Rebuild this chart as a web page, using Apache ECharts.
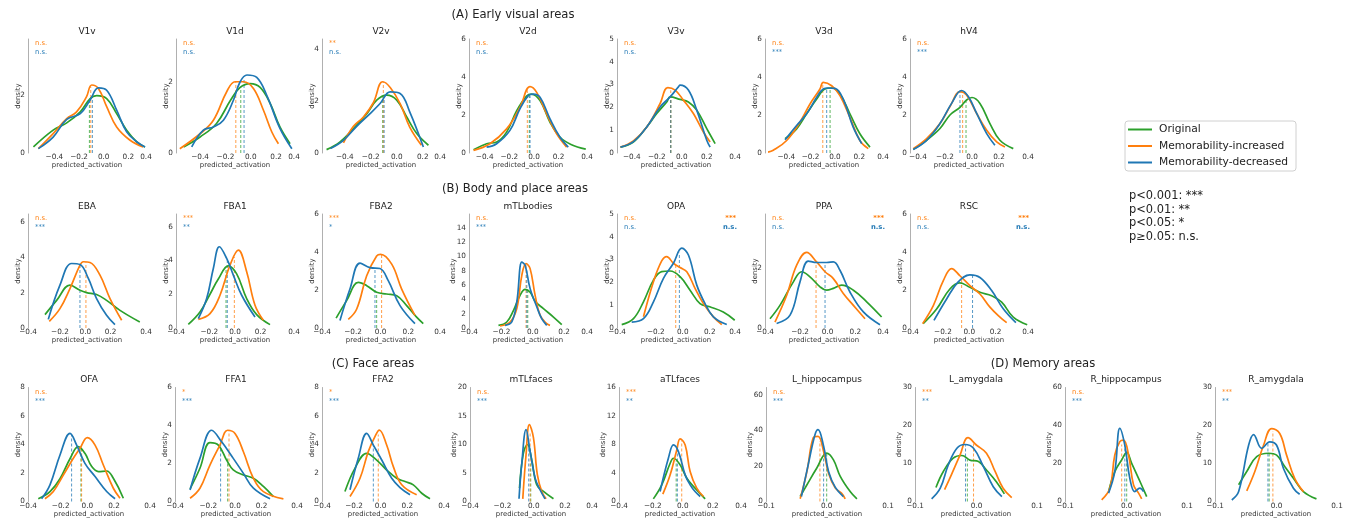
<!DOCTYPE html>
<html>
<head>
<meta charset="utf-8">
<script src="https://cdn.jsdelivr.net/npm/echarts@6/dist/echarts.min.js"></script>
<style>
html, body { margin: 0; padding: 0; background: #fff; }
#chart { width: 1347px; height: 520px; }
</style>
</head>
<body>
<div id="chart"></div>
<script>
// 面板名称 (row A: 7, row B: 7, row C+D: 9)
const panelNames = ['V1v', 'V1d', 'V2v', 'V2d', 'V3v', 'V3d', 'hV4',
    'EBA', 'FBA1', 'FBA2', 'mTLbodies', 'OPA', 'PPA', 'RSC',
    'OFA', 'FFA1', 'FFA2', 'mTLfaces', 'aTLfaces', 'L_hippocampus', 'L_amygdala', 'R_hippocampus', 'R_amygdala'];
const seriesNames = ['Original', 'Memorability-increased', 'Memorability-decreased'];
const sectionTitles = ['(A) Early visual areas', '(B) Body and place areas', '(C) Face areas', '(D) Memory areas'];
const pLegend = ['p<0.001: ***', 'p<0.01: **', 'p<0.05: *', 'p\u22650.05: n.s.'];

// x range of each panel (predicted_activation)
const xRanges = [[-0.614, 0.343], [-0.59, 0.341], [-0.575, 0.333], [-0.527, 0.43], [-0.518, 0.426], [-0.575, 0.395], [-0.459, 0.415],
    [-0.452, 0.479], [-0.46, 0.46], [-0.424, 0.429], [-0.407, 0.346], [-0.487, 0.387], [-0.453, 0.4], [-0.45, 0.446],
    [-0.445, 0.47], [-0.45, 0.465], [-0.44, 0.475], [-0.407, 0.372], [-0.425, 0.388], [-0.0984, 0.0994], [-0.1, 0.098], [-0.0987, 0.0965], [-0.099, 0.097]];
const xSteps = [0.2, 0.2, 0.2, 0.2, 0.2, 0.2, 0.2, 0.2, 0.2, 0.2, 0.2, 0.2, 0.2, 0.2, 0.2, 0.2, 0.2, 0.2, 0.2, 0.1, 0.1, 0.1, 0.1];
// tick labels drawn on the data axis
const xTickLabels = [[-0.4, -0.2, 0, 0.2], [-0.4, -0.2, 0, 0.2], [-0.4, -0.2, 0, 0.2], [-0.4, -0.2, 0, 0.2], [-0.4, -0.2, 0, 0.2], [-0.4, -0.2, 0, 0.2], [-0.4, -0.2, 0, 0.2],
    [-0.2, 0, 0.2], [-0.2, 0, 0.2], [-0.2, 0, 0.2], [-0.2, 0, 0.2], [-0.2, 0, 0.2], [-0.2, 0, 0.2], [-0.2, 0, 0.2],
    [-0.2, 0, 0.2], [-0.2, 0, 0.2], [-0.2, 0, 0.2], [-0.2, 0, 0.2], [-0.2, 0, 0.2], [0], [0], [0], [0]];
// labels at both ends of the panel
const edgeLabels = [['', '0.4'], ['', '0.4'], ['', '0.4'], ['', '0.4'], ['', '0.4'], ['', '0.4'], ['', '0.4'],
    ['\u22120.4', '0.4'], ['\u22120.4', '0.4'], ['\u22120.4', '0.4'], ['\u22120.4', '0.4'], ['\u22120.4', '0.4'], ['\u22120.4', '0.4'], ['\u22120.4', '0.4'],
    ['\u22120.4', '0.4'], ['\u22120.4', '0.4'], ['\u22120.4', '0.4'], ['\u22120.4', '0.4'], ['\u22120.4', '0.4'], ['\u22120.1', '0.1'], ['\u22120.1', '0.1'], ['\u22120.1', '0.1'], ['\u22120.1', '0.1']];
// density axis
const yMaxes = [3.94, 3.2, 4.4, 6, 5, 6, 6, 6.47, 6.75, 6, 15.9, 5, 3.83, 6, 8, 6, 8, 20, 16, 64, 30, 60, 30];
const ySteps = [2, 2, 2, 2, 1, 2, 2, 2, 2, 2, 2, 1, 2, 2, 2, 2, 2, 5, 4, 20, 10, 20, 10];

// significance marks
const sigInc = ['n.s.', 'n.s.', '**', 'n.s.', 'n.s.', 'n.s.', 'n.s.', 'n.s.', '***', '***', 'n.s.', 'n.s.', 'n.s.', 'n.s.',
    'n.s.', '*', '*', 'n.s.', '***', 'n.s.', '***', 'n.s.', '***'];
const sigDec = ['n.s.', 'n.s.', 'n.s.', 'n.s.', 'n.s.', '***', '***', '***', '**', '*', '***', 'n.s.', 'n.s.', 'n.s.',
    '***', '***', '***', '***', '**', '***', '**', '***', '**'];
const sigIncRight = [null, null, null, null, null, null, null, null, null, null, null, '***', '***', '***',
    null, null, null, null, null, null, null, null, null];
const sigDecRight = [null, null, null, null, null, null, null, null, null, null, null, 'n.s.', 'n.s.', 'n.s.',
    null, null, null, null, null, null, null, null, null];

// KDE curves [activation, density]
const origCurves = [
    [[-0.57, 0.21], [-0.41, 0.79], [-0.30, 1.04], [-0.19, 1.42], [-0.11, 1.88], [-0.057, 1.98], [0.024, 1.88], [0.105, 1.36], [0.186, 0.79], [0.27, 0.38], [0.335, 0.21]],
    [[-0.53, 0.17], [-0.40, 0.45], [-0.27, 0.83], [-0.16, 1.48], [-0.084, 1.84], [-0.005, 1.95], [0.074, 1.84], [0.153, 1.39], [0.23, 0.73], [0.31, 0.26]],
    [[-0.54, 0.13], [-0.436, 0.43], [-0.333, 0.94], [-0.23, 1.52], [-0.154, 2.04], [-0.077, 2.23], [0, 2.04], [0.077, 1.39], [0.154, 0.75], [0.244, 0.3]],
    [[-0.49, 0.17], [-0.384, 0.49], [-0.303, 0.58], [-0.222, 1.1], [-0.14, 2.23], [-0.06, 3.0], [-0.02, 3.1], [0.049, 2.76], [0.13, 1.62], [0.21, 0.84], [0.3, 0.45], [0.42, 0.2]],
    [[-0.49, 0.26], [-0.387, 0.48], [-0.28, 1.14], [-0.2, 1.73], [-0.12, 2.24], [-0.093, 2.46], [-0.013, 2.35], [0.053, 2.24], [0.12, 1.88], [0.2, 1.07], [0.267, 0.41]],
    [[-0.41, 0.75], [-0.315, 1.27], [-0.233, 2.06], [-0.15, 2.84], [-0.082, 3.37], [-0.027, 3.42], [0.041, 3.1], [0.123, 2.06], [0.205, 1.01], [0.288, 0.31]],
    [[-0.435, 0.19], [-0.336, 0.67], [-0.237, 1.29], [-0.163, 2.0], [-0.089, 2.4], [-0.04, 2.79], [0, 2.92], [0.059, 2.61], [0.133, 1.55], [0.207, 0.67], [0.306, 0.23]],
    [[-0.318, 0.76], [-0.226, 1.57], [-0.121, 2.43], [-0.042, 2.14], [0.01, 2.01], [0.089, 1.9], [0.168, 1.57], [0.274, 1.0], [0.43, 0.34]],
    [[-0.364, 0.22], [-0.273, 0.95], [-0.195, 2.0], [-0.13, 2.9], [-0.052, 3.68], [0.013, 3.2], [0.091, 1.74], [0.169, 0.79], [0.273, 0.2]],
    [[-0.322, 0.52], [-0.246, 1.44], [-0.161, 2.4], [-0.101, 2.23], [-0.029, 1.88], [0.043, 1.79], [0.116, 1.7], [0.188, 1.18], [0.26, 0.57], [0.308, 0.23]],
    [[-0.219, 0.37], [-0.166, 0.84], [-0.123, 2.47], [-0.081, 4.56], [-0.049, 5.4], [-0.017, 5.0], [0.015, 3.72], [0.068, 2.7], [0.132, 1.53], [0.185, 0.47]],
    [[-0.452, 0.15], [-0.365, 0.41], [-0.291, 1.15], [-0.217, 2.1], [-0.156, 2.47], [-0.094, 2.5], [-0.02, 2.25], [0.054, 1.66], [0.128, 1.07], [0.2, 0.93], [0.3, 0.7], [0.385, 0.34]],
    [[-0.417, 0.31], [-0.345, 0.76], [-0.248, 1.55], [-0.188, 1.89], [-0.128, 1.72], [-0.055, 1.38], [-0.007, 1.27], [0.041, 1.33], [0.101, 1.44], [0.186, 1.27], [0.282, 0.88], [0.39, 0.37]],
    [[-0.35, 0.23], [-0.248, 1.0], [-0.147, 2.05], [-0.071, 2.37], [0.005, 2.14], [0.081, 1.88], [0.17, 1.7], [0.246, 1.36], [0.334, 0.57], [0.44, 0.17]],
    [[-0.368, 0.19], [-0.28, 0.7], [-0.205, 1.6], [-0.13, 3.0], [-0.068, 3.85], [-0.018, 3.38], [0.033, 2.45], [0.083, 2.1], [0.145, 2.14], [0.195, 1.63], [0.27, 0.23]],
    [[-0.337, 0.66], [-0.263, 1.75], [-0.188, 3.1], [-0.125, 2.97], [-0.063, 2.18], [-0.013, 1.66], [0.063, 1.4], [0.138, 1.22], [0.213, 0.79], [0.288, 0.26]],
    [[-0.268, 0.7], [-0.193, 2.33], [-0.105, 3.38], [-0.03, 2.91], [0.045, 2.21], [0.12, 1.63], [0.183, 1.4], [0.245, 1.17], [0.308, 0.58], [0.37, 0.19]],
    [[-0.091, 2.35], [-0.066, 8.5], [-0.04, 10.0], [-0.013, 7.35], [0.019, 2.94], [0.062, 1.76], [0.126, 0.47]],
    [[-0.196, 0.37], [-0.14, 2.34], [-0.084, 5.37], [-0.062, 6.07], [-0.018, 5.14], [0.027, 3.27], [0.082, 1.87], [0.149, 0.37]],
    [[-0.043, 2.8], [-0.032, 9.4], [-0.016, 18.8], [0, 27.2], [0.011, 23.4], [0.022, 14.1], [0.038, 5.6], [0.049, 1.5]],
    [[-0.066, 3.7], [-0.054, 7.9], [-0.038, 11.4], [-0.024, 12.1], [-0.011, 10.9], [0.003, 10.5], [0.016, 8.3], [0.032, 5.2], [0.045, 2.0]],
    [[-0.029, 5.2], [-0.019, 15.7], [-0.008, 21.9], [0, 25.9], [0.008, 20.1], [0.019, 12.2], [0.032, 2.6]],
    [[-0.061, 4.4], [-0.048, 7.9], [-0.032, 11.8], [-0.013, 12.7], [0, 12.2], [0.013, 9.2], [0.027, 6.1], [0.043, 2.6], [0.064, 0.7]]
];
const incCurves = [
    [[-0.53, 0.15], [-0.41, 0.67], [-0.30, 1.19], [-0.22, 1.42], [-0.14, 1.94], [-0.097, 2.35], [-0.043, 2.23], [0.024, 1.6], [0.105, 0.9], [0.214, 0.44], [0.32, 0.21]],
    [[-0.56, 0.12], [-0.40, 0.54], [-0.295, 0.92], [-0.19, 1.72], [-0.124, 2.0], [-0.058, 2.0], [0.021, 1.81], [0.1, 1.2], [0.166, 0.59], [0.218, 0.26]],
    [[-0.41, 0.39], [-0.333, 1.03], [-0.256, 1.39], [-0.18, 1.94], [-0.108, 2.75], [-0.05, 2.53], [0.026, 1.91], [0.1, 1.0], [0.19, 0.3]],
    [[-0.49, 0.14], [-0.357, 0.49], [-0.222, 1.27], [-0.114, 2.4], [-0.032, 3.49], [0.022, 3.19], [0.103, 2.06], [0.184, 1.01], [0.265, 0.31]],
    [[-0.49, 0.26], [-0.387, 0.53], [-0.28, 1.14], [-0.173, 2.17], [-0.112, 2.87], [-0.053, 2.76], [0.013, 2.32], [0.093, 1.73], [0.173, 0.92], [0.227, 0.48]],
    [[-0.55, 0.05], [-0.507, 0.14], [-0.397, 0.66], [-0.288, 1.62], [-0.205, 2.58], [-0.123, 3.37], [-0.096, 3.72], [-0.027, 3.54], [0.041, 3.02], [0.123, 1.88], [0.205, 0.66], [0.274, 0.23]],
    [[-0.435, 0.23], [-0.336, 0.76], [-0.237, 1.55], [-0.163, 2.44], [-0.089, 3.23], [-0.04, 3.06], [0.035, 2.08], [0.109, 1.2], [0.183, 0.58], [0.244, 0.32]],
    [[-0.284, 0.38], [-0.2, 1.1], [-0.121, 2.24], [-0.042, 3.57], [-0.016, 3.76], [0.037, 3.72], [0.116, 3.0], [0.195, 1.67], [0.287, 0.44]],
    [[-0.286, 0.51], [-0.195, 0.85], [-0.117, 1.94], [-0.039, 3.72], [0.026, 4.61], [0.091, 3.33], [0.156, 1.35], [0.221, 0.46]],
    [[-0.234, 0.45], [-0.173, 1.0], [-0.101, 2.75], [-0.029, 3.79], [0.0, 3.88], [0.08, 3.36], [0.152, 2.05], [0.248, 0.66]],
    [[-0.209, 0.28], [-0.145, 0.84], [-0.102, 2.7], [-0.07, 7.35], [-0.043, 8.98], [-0.017, 8.28], [0.015, 4.56], [0.047, 1.77], [0.089, 0.6], [0.11, 0.37]],
    [[-0.291, 0.49], [-0.217, 2.03], [-0.156, 2.94], [-0.119, 3.13], [-0.069, 2.84], [-0.02, 2.65], [0.03, 2.47], [0.091, 1.74], [0.153, 1.07], [0.227, 0.49], [0.289, 0.15]],
    [[-0.381, 0.2], [-0.296, 1.1], [-0.224, 2.11], [-0.152, 2.54], [-0.08, 2.22], [-0.019, 1.89], [0.041, 1.66], [0.113, 1.16], [0.186, 0.76], [0.27, 0.31]],
    [[-0.354, 0.23], [-0.273, 1.18], [-0.197, 2.49], [-0.134, 3.13], [-0.071, 2.75], [0.005, 2.23], [0.081, 1.79], [0.157, 1.1], [0.233, 0.57], [0.284, 0.28]],
    [[-0.318, 0.19], [-0.255, 0.7], [-0.18, 1.86], [-0.105, 3.03], [-0.055, 3.73], [0, 4.48], [0.058, 3.96], [0.12, 2.56], [0.195, 0.93], [0.245, 0.23]],
    [[-0.337, 0.17], [-0.263, 0.7], [-0.188, 1.92], [-0.113, 2.97], [-0.055, 3.75], [0, 3.58], [0.063, 2.62], [0.138, 1.22], [0.213, 0.52], [0.363, 0.14]],
    [[-0.23, 0.35], [-0.155, 1.63], [-0.093, 3.5], [-0.043, 4.55], [-0.01, 5.01], [0.045, 3.96], [0.095, 2.45], [0.158, 1.17], [0.27, 0.47]],
    [[-0.07, 0.47], [-0.049, 8.24], [-0.028, 13.5], [-0.002, 11.2], [0.023, 4.7], [0.051, 1.76], [0.079, 0.47]],
    [[-0.133, 1.03], [-0.084, 3.74], [-0.04, 7.24], [-0.018, 8.79], [0.016, 7.94], [0.049, 4.2], [0.093, 1.87], [0.138, 0.7]],
    [[-0.043, 1.5], [-0.032, 16.9], [-0.022, 35.6], [-0.014, 36.6], [-0.005, 28.1], [0.003, 15.9], [0.014, 7.5], [0.024, 4.7], [0.03, 1.5]],
    [[-0.052, 3.1], [-0.041, 7.0], [-0.027, 12.2], [-0.014, 16.8], [0, 14.8], [0.016, 12.7], [0.03, 7.9], [0.043, 3.5], [0.057, 1.0]],
    [[-0.04, 0.9], [-0.027, 7.0], [-0.019, 24.5], [-0.011, 31.5], [-0.005, 32.3], [0.003, 24.5], [0.011, 8.7], [0.019, 4.4], [0.024, 1.4]],
    [[-0.048, 2.8], [-0.035, 7.9], [-0.021, 14.8], [-0.008, 19.2], [0.005, 17.9], [0.016, 12.2], [0.029, 6.1], [0.043, 2.6]]
];
const decCurves = [
    [[-0.53, 0.15], [-0.41, 0.55], [-0.30, 1.16], [-0.19, 1.36], [-0.11, 1.83], [-0.043, 2.25], [0.024, 2.17], [0.105, 1.48], [0.186, 0.73], [0.27, 0.38], [0.335, 0.21]],
    [[-0.466, 0.17], [-0.374, 0.64], [-0.295, 0.73], [-0.216, 0.92], [-0.137, 1.48], [-0.084, 2.0], [-0.03, 2.19], [0.047, 2.12], [0.126, 1.62], [0.23, 0.69], [0.324, 0.12]],
    [[-0.51, 0.17], [-0.41, 0.49], [-0.308, 1.03], [-0.205, 1.52], [-0.128, 1.91], [-0.05, 2.36], [0.026, 2.3], [0.1, 1.59], [0.205, 0.23]],
    [[-0.384, 0.31], [-0.303, 0.49], [-0.195, 1.19], [-0.114, 2.32], [-0.046, 3.02], [-0.005, 3.1], [0.049, 2.93], [0.13, 1.8], [0.21, 0.84], [0.278, 0.31]],
    [[-0.49, 0.26], [-0.387, 0.5], [-0.28, 1.14], [-0.173, 2.02], [-0.093, 2.46], [-0.027, 2.9], [-0.013, 2.98], [0.053, 2.76], [0.12, 1.88], [0.2, 0.56], [0.227, 0.26]],
    [[-0.41, 0.7], [-0.315, 1.45], [-0.233, 2.06], [-0.15, 2.93], [-0.096, 3.37], [-0.055, 3.42], [0, 3.4], [0.068, 2.84], [0.15, 1.36], [0.22, 0.49]],
    [[-0.435, 0.19], [-0.336, 0.67], [-0.237, 1.55], [-0.151, 2.61], [-0.077, 3.29], [-0.027, 2.97], [0.035, 2.08], [0.109, 1.02], [0.17, 0.41]],
    [[-0.292, 0.49], [-0.2, 2.43], [-0.108, 3.66], [-0.042, 3.6], [0.024, 2.81], [0.089, 1.67], [0.168, 0.72], [0.234, 0.19]],
    [[-0.286, 0.55], [-0.221, 1.74], [-0.169, 3.52], [-0.122, 4.81], [-0.065, 4.12], [-0.013, 3.13], [0.052, 1.94], [0.156, 0.65]],
    [[-0.294, 0.4], [-0.222, 2.05], [-0.149, 3.41], [-0.077, 3.18], [-0.005, 3.13], [0.055, 2.49], [0.14, 1.18], [0.248, 0.23]],
    [[-0.177, 0.37], [-0.134, 0.84], [-0.102, 3.63], [-0.07, 9.2], [-0.049, 8.74], [-0.017, 5.49], [0.026, 2.93], [0.057, 1.3], [0.089, 0.37]],
    [[-0.378, 0.26], [-0.291, 0.41], [-0.217, 1.15], [-0.143, 2.18], [-0.069, 2.84], [-0.007, 3.5], [0.042, 3.2], [0.104, 1.88], [0.165, 1.07], [0.227, 0.49], [0.326, 0.15]],
    [[-0.369, 0.15], [-0.272, 0.43], [-0.2, 1.55], [-0.14, 2.25], [-0.08, 2.2], [-0.007, 2.2], [0.041, 2.22], [0.089, 1.94], [0.161, 1.21], [0.258, 0.54], [0.378, 0.11]],
    [[-0.268, 0.4], [-0.172, 1.53], [-0.084, 2.43], [0.005, 2.8], [0.081, 2.66], [0.17, 1.97], [0.258, 1.01], [0.354, 0.28]],
    [[-0.343, 0.19], [-0.28, 1.17], [-0.205, 3.26], [-0.13, 4.78], [-0.08, 3.96], [-0.018, 2.68], [0.058, 1.75], [0.145, 0.7], [0.208, 0.19]],
    [[-0.337, 0.61], [-0.263, 2.27], [-0.175, 3.75], [-0.1, 3.14], [-0.013, 2.27], [0.063, 1.48], [0.138, 0.7], [0.263, 0.14]],
    [[-0.23, 0.82], [-0.168, 3.03], [-0.105, 4.78], [-0.055, 3.96], [0.008, 2.91], [0.083, 1.63], [0.145, 0.98], [0.22, 0.47]],
    [[-0.094, 0.47], [-0.077, 6.47], [-0.049, 12.6], [-0.023, 8.8], [0.009, 4.1], [0.04, 2.06], [0.072, 0.47]],
    [[-0.151, 1.4], [-0.096, 6.07], [-0.062, 7.94], [-0.029, 7.0], [0.016, 3.74], [0.049, 2.34], [0.082, 1.4], [0.116, 0.7]],
    [[-0.041, 2.8], [-0.03, 20.6], [-0.019, 37.5], [-0.014, 40.3], [-0.005, 31], [0.003, 16.9], [0.014, 7.9], [0.027, 2.8]],
    [[-0.073, 0.7], [-0.059, 3.5], [-0.046, 9.6], [-0.032, 14.0], [-0.019, 15.0], [-0.005, 14.0], [0.011, 9.2], [0.027, 3.9], [0.041, 1.3]],
    [[-0.029, 4.4], [-0.019, 15.7], [-0.011, 38.5], [-0.003, 29.7], [0.005, 12.2], [0.013, 5.2], [0.021, 7.0], [0.027, 5.2]],
    [[-0.072, 0.4], [-0.061, 2.6], [-0.045, 14.8], [-0.037, 17.6], [-0.024, 14.0], [-0.011, 15.7], [0, 14.8], [0.011, 8.7], [0.027, 3.5], [0.037, 1.9]]
];

// medians: [activation, height of the dashed line]
const origMed = [[-0.116, 1.85], [-0.079, 1.84], [-0.108, 2.15], [-0.038, 3.0], [-0.088, 2.45], [-0.04, 3.4], [-0.044, 2.75],
    null, [-0.07, 3.5], [-0.029, 1.88], [-0.032, 5.2], null, null, null,
    [-0.048, 3.75], [-0.055, 2.3], null, [-0.019, 6.8], [-0.044, 5.7], [0, 27], [-0.015, 11.1], [0, 26], [-0.012, 12.5]];
const incMed = [[-0.105, 2.3], [-0.118, 2.0], [-0.103, 2.75], [-0.054, 3.3], [-0.088, 2.75], [-0.1, 3.65], [-0.069, 3.1],
    [0.005, 3.72], [-0.005, 4.2], [0.007, 3.87], [-0.043, 9.0], [-0.052, 2.8], [-0.084, 2.24], [-0.058, 2.65],
    [-0.043, 3.8], [-0.045, 3.7], [-0.018, 4.7], [-0.023, 12], [-0.007, 8.5], [-0.011, 34], [-0.005, 15.3], [-0.008, 30], [-0.006, 18.5]];
const decMed = [[-0.092, 1.98], [-0.053, 2.1], [-0.097, 2.1], [-0.032, 3.0], [-0.088, 2.45], [-0.068, 3.4], [-0.089, 3.25],
    [-0.042, 3.6], [-0.06, 4.0], [-0.041, 3.15], [-0.038, 8.0], [-0.025, 3.3], [-0.019, 2.2], [0.025, 2.78],
    [-0.118, 4.7], [-0.108, 3.2], [-0.055, 3.96], [-0.032, 10], [-0.036, 7.5], [-0.005, 31], [-0.018, 14.8], [-0.003, 30], [-0.014, 15.5]];

// ---- layout ----
const FONT = 'DejaVu Sans';
const COLORS = ['#2ca02c', '#ff7f0e', '#1f77b4'];
const rowTop = [39, 214, 387.5];
const plotH = 114;
const rowWidth = [118, 118, 122];
const rowLefts = [[28, 176, 322, 469, 617, 765, 910], [28, 176, 322, 469, 617, 765, 910],
    [28, 175, 322, 470, 619, 766, 915, 1065, 1215]];

let Chart_main = echarts.init(document.getElementById('chart'));

function panelRect(i) {
    let row = i < 7 ? 0 : (i < 14 ? 1 : 2);
    let col = row === 0 ? i : (row === 1 ? i - 7 : i - 14);
    return {left: rowLefts[row][col], top: rowTop[row], width: rowWidth[row], height: plotH, row: row};
}

function fmtNum(v) {
    let s = Math.abs(v) < 1e-9 ? '0.0' : v.toFixed(1);
    return s.replace('-', '\u2212');
}

let grids = [], xAxes = [], yAxes = [], series = [], graphics = [];

panelNames.forEach(function (name, i) {
    let r = panelRect(i);
    grids.push({left: r.left, top: r.top, width: r.width, height: r.height});

    let ticks = xTickLabels[i];
    xAxes.push({
        type: 'value', gridIndex: i, min: xRanges[i][0], max: xRanges[i][1],
        minInterval: xSteps[i], maxInterval: xSteps[i], position: 'bottom', offset: 0,
        axisLine: {show: false}, axisTick: {show: false}, splitLine: {show: false},
        axisLabel: {
            fontFamily: FONT, fontSize: 7.3, color: '#333', margin: 1,
            showMinLabel: false, showMaxLabel: false,
            formatter: function (v) {
                for (let t of ticks) { if (Math.abs(v - t) < 1e-6) return fmtNum(t); }
                return '';
            }
        }
    });
    let edge = edgeLabels[i];
    xAxes.push({
        type: 'value', gridIndex: i, min: 0, max: 1, interval: 1, position: 'bottom', offset: 0,
        axisLine: {show: false}, axisTick: {show: false}, splitLine: {show: false},
        axisLabel: {
            fontFamily: FONT, fontSize: 7.3, color: '#333', margin: 1,
            showMinLabel: true, showMaxLabel: true,
            formatter: function (v) { return v === 0 ? edge[0] : (v === 1 ? edge[1] : ''); }
        }
    });
    let step = ySteps[i];
    yAxes.push({
        type: 'value', gridIndex: i, min: 0, max: yMaxes[i], minInterval: step, maxInterval: step,
        position: 'left',
        axisLine: {show: true, onZero: false, lineStyle: {color: '#b0b0b0', width: 1}},
        axisTick: {show: false}, splitLine: {show: false},
        axisLabel: {
            fontFamily: FONT, fontSize: 7.3, color: '#333', margin: 3,
            formatter: function (v) {
                return Math.abs(v / step - Math.round(v / step)) < 1e-6 ? String(Math.round(v)) : '';
            }
        }
    });

    [origCurves, incCurves, decCurves].forEach(function (curves, k) {
        series.push({
            name: seriesNames[k], type: 'line', xAxisIndex: 2 * i, yAxisIndex: i,
            data: curves[i], smooth: 0.4, symbol: 'none', showSymbol: false, silent: true,
            lineStyle: {width: 1.7, color: COLORS[k]}, itemStyle: {color: COLORS[k]},
            animation: false, z: 3
        });
    });
    [origMed, incMed, decMed].forEach(function (meds, k) {
        let m = meds[i];
        if (!m) return;
        series.push({
            name: 'median', type: 'line', xAxisIndex: 2 * i, yAxisIndex: i,
            data: [[m[0], 0], [m[0], m[1]]], symbol: 'none', silent: true,
            lineStyle: {width: 1, color: COLORS[k], type: [3, 2], opacity: 0.75},
            animation: false, z: 2
        });
    });

    // panel title, axis names, significance marks
    let cx = r.left + r.width / 2;
    graphics.push({type: 'text', x: cx, y: r.top - 7.5, silent: true,
        style: {text: name, font: '9px "DejaVu Sans"', fill: '#222', textAlign: 'center', textVerticalAlign: 'middle'}});
    graphics.push({type: 'text', x: cx, y: r.top + r.height + 12.5, silent: true,
        style: {text: 'predicted_activation', font: '6.9px "DejaVu Sans"', fill: '#333', textAlign: 'center', textVerticalAlign: 'middle'}});
    let gap = String(Math.round(yMaxes[i] - yMaxes[i] % step)).length > 1 ? 16 : 10;
    graphics.push({type: 'text', x: r.left - gap, y: r.top + r.height / 2, rotation: Math.PI / 2, silent: true,
        style: {text: 'density', font: '6.9px "DejaVu Sans"', fill: '#333', textAlign: 'center', textVerticalAlign: 'middle'}});
    graphics.push({type: 'text', x: r.left + 7, y: r.top + 4.5, silent: true,
        style: {text: sigInc[i], font: '6.8px "DejaVu Sans"', fill: COLORS[1], textAlign: 'left', textVerticalAlign: 'middle'}});
    graphics.push({type: 'text', x: r.left + 7, y: r.top + 13.5, silent: true,
        style: {text: sigDec[i], font: '6.8px "DejaVu Sans"', fill: COLORS[2], textAlign: 'left', textVerticalAlign: 'middle'}});
    if (sigIncRight[i]) {
        graphics.push({type: 'text', x: r.left + r.width + 1, y: r.top + 4.5, silent: true,
            style: {text: sigIncRight[i], font: 'bold 6.8px "DejaVu Sans"', fill: COLORS[1], textAlign: 'right', textVerticalAlign: 'middle'}});
        graphics.push({type: 'text', x: r.left + r.width + 2, y: r.top + 13.5, silent: true,
            style: {text: sigDecRight[i], font: 'bold 6.8px "DejaVu Sans"', fill: COLORS[2], textAlign: 'right', textVerticalAlign: 'middle'}});
    }
});

// section titles
[[513, 15], [515, 189], [373, 364], [1043, 364]].forEach(function (p, k) {
    graphics.push({type: 'text', x: p[0], y: p[1], silent: true,
        style: {text: sectionTitles[k], font: '11.6px "DejaVu Sans"', fill: '#222', textAlign: 'center', textVerticalAlign: 'middle'}});
});
// p value legend
pLegend.forEach(function (t, k) {
    graphics.push({type: 'text', x: 1129, y: 196 + k * 13.7, silent: true,
        style: {text: t, font: '11.4px "DejaVu Sans"', fill: '#222', textAlign: 'left', textVerticalAlign: 'middle'}});
});

let option = {
    backgroundColor: '#fff',
    animation: false,
    grid: grids,
    xAxis: xAxes,
    yAxis: yAxes,
    legend: {
        data: seriesNames,
        orient: 'vertical',
        left: 1125, top: 121,
        icon: 'rect',
        itemWidth: 24, itemHeight: 2, itemGap: 5.5,
        padding: [3, 8, 3, 3],
        borderColor: '#d0d0d0', borderWidth: 1, borderRadius: 3,
        backgroundColor: '#fff',
        selectedMode: false,
        textStyle: {fontFamily: FONT, fontSize: 10.7, color: '#222', padding: [0, 0, 0, 2]}
    },
    graphic: graphics,
    series: series
};

Chart_main.setOption(option);
</script>
</body>
</html>
